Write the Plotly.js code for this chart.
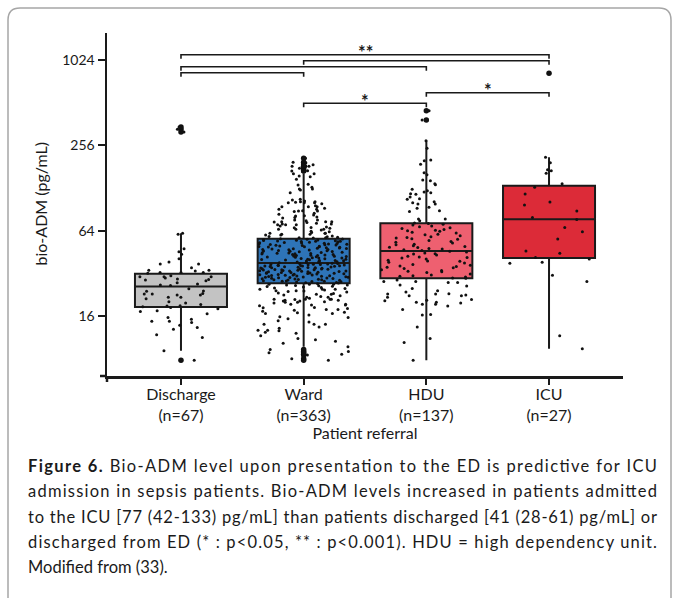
<!DOCTYPE html>
<html><head><meta charset="utf-8">
<script src="https://cdn.plot.ly/plotly-3.0.1.min.js"></script>
<style>html,body{margin:0;padding:0;background:#fff;} #chart{width:674px;height:598px;}</style>
</head><body><div id="chart"></div>
<script>
// ---------- data ----------
const categories = ['Discharge', 'Ward', 'HDU', 'ICU'];
const nLabels = [67, 363, 137, 27];
const boxColors = ['#c3c3c3', '#2e74b8', '#ee6070', '#dc2b38'];
const q1 = [18.5, 27.3, 29.5, 41.0];
const median = [25.8, 37.8, 46.0, 77.0];
const q3 = [31.8, 56.2, 72.1, 132.9];
const lowerFence = [9.1, 9.7, 7.8, 9.4];
const upperFence = [61.3, 161.5, 276, 210.7];

const dischargeValues = [
  61.3, 60.3, 47.7, 45.5, 43.6, 40.5, 38.5, 37.2, 37.2, 33.6, 33.6, 33.2, 32.5, 32.5, 32.5, 32.0,
  30.3, 30.3, 30.3, 30.8, 28.4, 29.2, 27.5, 29.0, 28.7, 29.7, 26.9, 26.3, 26.5, 24.9, 24.0, 23.9,
  23.1, 22.9, 22.9, 22.5, 22.5, 21.7, 21.7, 21.2, 20.2, 19.3, 18.9, 18.8, 18.6, 18.4,
  18.0, 17.4, 17.2, 16.6, 15.6, 15.2, 14.7, 14.7, 14.4, 13.8, 13.3, 12.9, 11.8, 11.3, 9.1, 7.8,
  318, 332, 345, 35.0, 19.8
];
const wardValues = [
  207.3, 194.2, 193.0, 182.0, 168.7, 169.5, 161.5, 161.5, 186.8, 176.3, 182.0, 182.0,
  147.4, 153.8, 155.6, 135.9, 134.4, 129.5, 123.9, 125.9, 125.9, 118.6,
  106.5, 105.3, 102.4, 102.4, 103.6, 101.5, 99.3, 100.9, 100.9, 100.9,
  94.5, 94.5, 90.5, 94.5, 88.5, 90.5, 88.0, 87.5, 88.0,
  81.6, 81.2, 82.5, 83.5, 76.1, 79.4, 74.0, 78.6, 73.7, 76.1, 73.0, 74.0, 74.0, 75.2,
  70.6, 70.6, 71.3, 71.3, 70.6, 67.4, 65.4, 67.0, 65.4, 66.6, 69.1, 63.0, 65.4,
  61.3, 57.0, 57.0, 59.6, 57.9, 61.3, 60.3, 59.6, 60.3, 61.3, 64.7,
  57.5, 58.3, 56.8, 58.8, 62.2, 63.5, 68.0, 72.2, 80.0, 85.0, 92.0, 96.0,
  38.0, 38.2, 38.2, 38.5, 38.9, 39.1, 39.4, 39.5, 39.9, 40.2,
  40.3, 40.8, 41.0, 41.1, 41.5, 41.9, 42.0, 42.4, 42.7, 42.8,
  43.2, 43.5, 43.5, 43.9, 44.3, 44.6, 44.7, 45.1, 45.6, 45.8,
  46.0, 46.4, 46.9, 47.1, 47.2, 47.7, 48.0, 48.4, 48.6, 48.9,
  49.3, 49.6, 49.8, 50.3, 50.5, 50.9, 51.2, 51.3, 51.8, 52.2,
  52.5, 52.6, 53.0, 53.4, 53.9, 54.0, 54.4, 54.8, 55.1, 55.3,
  55.9, 56.1, 38.7, 39.7, 40.5, 41.3, 42.2, 43.0, 44.0, 44.9,
  45.4, 46.2, 47.5, 48.2, 49.1, 50.0, 50.7, 51.5, 52.8, 53.6,
  54.6, 55.6, 39.2, 41.7, 44.2, 46.7, 49.4, 52.0, 54.2, 40.0,
  27.4, 27.5, 27.8, 28.0, 28.1, 28.4, 28.6, 28.7, 29.0, 29.2,
  29.3, 29.6, 29.8, 29.9, 30.2, 30.4, 30.5, 30.8, 31.0, 31.1,
  31.4, 31.6, 31.7, 32.0, 32.2, 32.3, 32.6, 32.9, 33.0, 33.2,
  33.5, 33.6, 33.9, 34.1, 34.2, 34.5, 34.8, 34.9, 35.1, 35.4,
  35.5, 35.8, 36.0, 36.1, 36.4, 36.7, 36.8, 37.1, 37.3, 37.6,
  27.6, 28.3, 28.9, 29.4, 30.0, 30.6, 31.3, 31.9, 32.5, 33.1,
  33.8, 34.4, 35.0, 35.6, 36.3, 36.9, 37.5, 27.9, 28.8, 29.7,
  30.3, 31.2, 32.1, 32.8, 33.4, 34.3, 35.2, 36.2, 37.0, 37.7,
  28.2, 29.1, 30.1, 30.9, 31.8, 32.4, 33.3, 34.0, 34.7, 35.9, 36.5,
  26.5, 26.5, 26.8, 26.2, 26.8, 26.8,
  23.6, 24.1, 24.4, 24.1, 22.8, 24.7, 22.5, 24.7, 24.7, 23.1, 25.4, 21.7, 22.8,
  21.0, 21.0, 20.0, 20.7, 19.4, 20.4, 21.0, 19.4, 18.4, 21.0, 21.7, 20.4, 20.7, 20.2, 20.0, 19.1, 19.1,
  17.6, 17.0, 16.7, 15.6, 16.7, 17.3, 18.3, 17.8, 17.8, 15.8, 16.3,
  14.0, 14.0, 14.8, 13.4, 14.0, 12.7, 12.7, 12.1, 12.6, 11.1,
  9.3, 9.0, 8.5, 8.0, 8.6, 7.8, 8.8, 9.7, 10.9, 10.3,
  27.0, 26.0, 25.8, 25.0, 25.6, 24.0, 23.3, 22.2, 21.4, 26.3, 25.2, 23.8,
  22.0, 20.9, 19.8, 18.9, 18.1, 16.9, 15.3, 14.5, 13.1, 11.6, 12.3, 10.6
];
const hduValues = [
  449, 386, 276, 243.9, 201.6, 199.4, 188.4, 164.1, 158.9, 144.0,
  145.7, 137.3, 135.1, 125.3, 119.9, 118.6, 116.7, 115.6, 122.5, 107.6,
  106.5, 110.6, 100.6, 98.9, 102.4, 98.9, 92.0, 88.5, 93.6, 87.5,
  77.4, 75.2, 77.4, 72.4,
  46.3, 46.9, 47.6, 48.0, 48.8, 49.5, 50.1, 50.9, 51.4, 52.3,
  53.0, 53.8, 54.5, 55.6, 56.2, 57.3, 58.0, 58.9, 59.8, 60.5,
  61.7, 62.4, 63.3, 64.5, 65.2, 66.4, 67.1, 68.3, 69.0, 70.2,
  71.1, 71.8, 49.0, 56.8, 63.9,
  29.7, 30.2, 30.8, 31.1, 31.7, 32.4, 32.8, 33.5, 34.0, 34.6,
  35.3, 35.7, 36.5, 37.0, 37.8, 38.3, 39.1, 39.6, 40.4, 41.0,
  41.8, 42.3, 43.1, 43.8, 44.6, 45.2, 45.8, 30.5, 33.1, 36.1,
  38.9, 41.4, 44.0, 35.0,
  28.7, 29.5, 28.0, 26.1, 27.6, 27.6, 28.0, 25.0, 23.6, 24.1,
  22.5, 22.9, 22.2, 22.2, 22.9, 23.0, 21.7, 20.7, 20.9, 20.0,
  19.8, 19.4, 20.0, 19.4, 18.8, 17.8, 16.3, 16.4, 13.4, 11.1,
  10.4, 7.8, 26.5, 20.5
];
const icuValues = [
  825, 210.7, 193.1, 172.3, 169.5, 162.5, 137.3, 129.5, 116.0, 101.8,
  97.1, 88.0, 79.4, 76.9, 67.4, 63.0, 56.0, 46.0, 44.4, 41.4,
  40.4, 38.3, 37.7, 31.0, 28.0, 11.6, 9.4
];
const groupValues = [dischargeValues, wardValues, hduValues, icuValues];
const yTickVals = [16, 64, 256, 1024];
const yTitle = 'bio-ADM (pg/mL)';
const xTitle = 'Patient referral';

// significance brackets: [from, to, pixel y of bar]
const brackets = [[0, 3, 54.7], [1, 3, 60.7], [0, 2, 66.7], [0, 1, 72.7], [2, 3, 92.7], [1, 2, 103.3]];
// star labels: [x position (category units), pixel y, text]
const starLabels = [[1.5, 47, '**'], [1.5, 95.7, '*'], [2.5, 85.3, '*']];
const captionLines = [
  '<b>Figure 6.</b> Bio-ADM level upon presentation to the ED is predictive for ICU',
  'admission in sepsis patients. Bio-ADM levels increased in patients admitted',
  'to the ICU [77 (42-133) pg/mL] than patients discharged [41 (28-61) pg/mL] or',
  'discharged from ED (* : p&lt;0.05, ** : p&lt;0.001). HDU = high dependency unit.',
  'Modified from (33).'
];

// ---------- geometry helpers ----------
const L = 107, R = 623, T = 33, B = 376;
const W = R - L, H = B - T;
const px2x = p => (p - L) / W;
const py2y = p => (B - p) / H;

const FONT = 'Lato, "Open Sans", sans-serif';
const INK = '#1a1a1a';

// ---------- traces ----------
const traces = [];
categories.forEach((c, i) => {
  traces.push({
    type: 'box', x: [c], q1: [q1[i]], median: [median[i]], q3: [q3[i]],
    lowerfence: [lowerFence[i]], upperfence: [upperFence[i]],
    boxpoints: false, width: 0.75, fillcolor: boxColors[i],
    line: {color: INK, width: 2}, whiskerwidth: 0, hoverinfo: 'skip', showlegend: false
  });
});
const ptsX = [], ptsY = [], outX = [], outY = [];
groupValues.forEach((vals, i) => {
  vals.forEach(v => {
    ptsX.push(categories[i]); ptsY.push(v);
    if (v > upperFence[i] || v < lowerFence[i]) { outX.push(categories[i]); outY.push(v); }
  });
});
traces.push({
  type: 'box', x: ptsX, y: ptsY, boxpoints: 'all', jitter: 1, pointpos: 0, width: 0.75,
  marker: {size: 3, color: '#111'}, line: {width: 0, color: 'rgba(0,0,0,0)'},
  fillcolor: 'rgba(0,0,0,0)', hoverinfo: 'skip', showlegend: false
});
traces.push({
  type: 'scatter', mode: 'markers', x: outX, y: outY,
  marker: {size: 5.5, color: '#111'}, hoverinfo: 'skip', showlegend: false
});

// ---------- shapes ----------
const shapes = [];
const hook = 4 / H;
brackets.forEach(([a, b, yp]) => {
  const yt = py2y(yp), yb = yt - hook;
  shapes.push({type: 'path', xref: 'x', yref: 'paper',
    path: `M ${a},${yb} L ${a},${yt} L ${b},${yt} L ${b},${yb}`,
    line: {color: INK, width: 1.6}});
});
// axis overhangs (cross at origin)
shapes.push({type: 'line', xref: 'paper', yref: 'paper', x0: px2x(100), x1: 0, y0: 0, y1: 0, line: {color: INK, width: 2.5}});
shapes.push({type: 'line', xref: 'paper', yref: 'paper', x0: 0, x1: 0, y0: 0, y1: py2y(382), line: {color: INK, width: 2.5}});
// outer rounded frame
{
  const x0 = 8, x1 = 671, y0 = 8, y1 = 640, r = 12;
  const P = (x, y) => `${px2x(x)},${py2y(y)}`;
  shapes.push({type: 'path', xref: 'paper', yref: 'paper', layer: 'below',
    path: `M ${P(x0, y1)} L ${P(x0, y0 + r)} Q ${P(x0, y0)} ${P(x0 + r, y0)} L ${P(x1 - r, y0)} Q ${P(x1, y0)} ${P(x1, y0 + r)} L ${P(x1, y1)}`,
    line: {color: '#a6a6a6', width: 1.5}});
}

// ---------- annotations ----------
const annotations = [];
// y-axis title (placed as rotated text at the reference position)
annotations.push({xref: 'paper', yref: 'paper', x: px2x(40), y: 0.5, text: yTitle, textangle: -90,
  showarrow: false, xanchor: 'center', yanchor: 'middle', font: {size: 16, color: INK, family: FONT}});
starLabels.forEach(([x, yp, t]) => {
  annotations.push({xref: 'x', yref: 'paper', x: x, y: py2y(yp + 5), text: '<b>' + t + '</b>',
    showarrow: false, xanchor: 'center', yanchor: 'middle', font: {size: 18, color: INK, family: FONT}});
});
const captionStart = annotations.length;
const captionY = [466, 491, 517, 542, 567];
captionLines.forEach((t, i) => {
  annotations.push({xref: 'paper', yref: 'paper', x: px2x(26), y: py2y(captionY[i]), text: t,
    showarrow: false, xanchor: 'left', yanchor: 'middle', align: 'left',
    font: {size: 16.5, color: INK, family: FONT}});
});

const layout = {
  width: 674, height: 598,
  margin: {l: L, r: 674 - R, t: T, b: 598 - B, pad: 0},
  paper_bgcolor: '#fff', plot_bgcolor: '#fff',
  font: {family: FONT, color: INK, size: 16},
  boxmode: 'overlay', showlegend: false,
  xaxis: {
    type: 'category', categoryorder: 'array', categoryarray: categories,
    range: [-0.603, 3.603], fixedrange: true,
    tickvals: categories, ticktext: categories.map((c, i) => c + '<br>(n=' + nLabels[i] + ')'),
    ticks: 'outside', ticklen: 6, tickwidth: 2, tickcolor: INK, ticklabelstandoff: -4,
    showline: true, linewidth: 2.5, linecolor: INK, showgrid: false, zeroline: false,
    tickfont: {size: 16}, automargin: true,
    title: {text: xTitle, font: {size: 16}, standoff: 0}
  },
  yaxis: {
    type: 'log', range: [0.781, 3.2009], fixedrange: true,
    tickvals: yTickVals, ticktext: yTickVals.map(String),
    ticks: 'outside', ticklen: 7, tickwidth: 2, tickcolor: INK,
    showline: true, linewidth: 2.5, linecolor: INK, showgrid: false, zeroline: false,
    tickfont: {size: 14}, automargin: false
  },
  shapes: shapes, annotations: annotations
};

Plotly.newPlot('chart', traces, layout, {staticPlot: true, displayModeBar: false}).then(gd => {
  for (let i = 0; i < captionLines.length - 1; i++) {
    const el = gd.querySelector('.annotation[data-index="' + (captionStart + i) + '"] text.annotation-text');
    if (el) { el.setAttribute('textLength', 629); el.setAttribute('lengthAdjust', 'spacing'); }
  }
});
</script></body></html>
